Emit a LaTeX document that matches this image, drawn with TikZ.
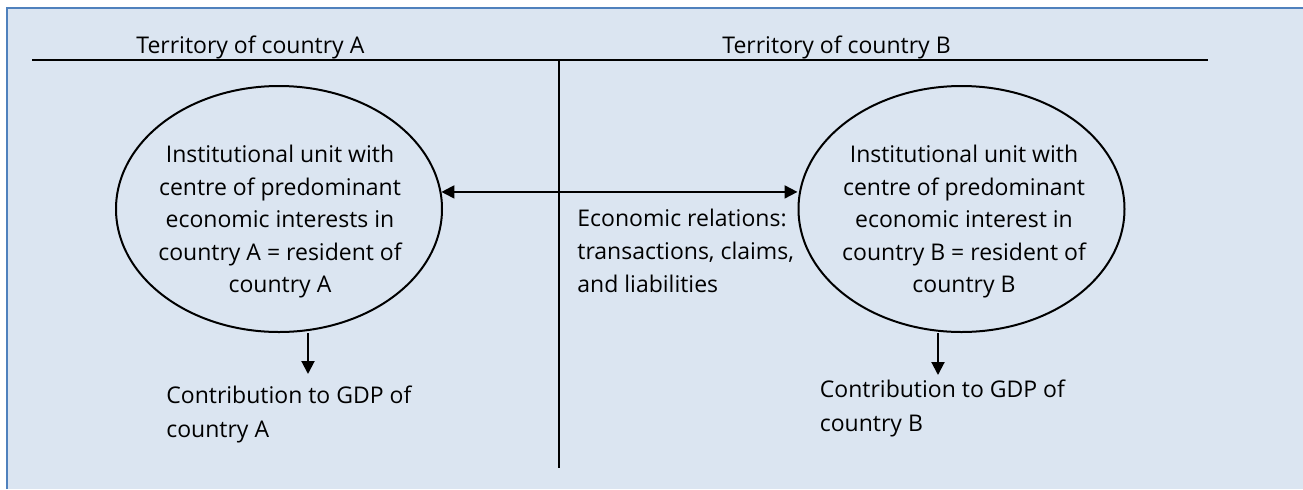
\documentclass[tikz,border=0pt]{standalone}
\usepackage{fontspec}
\setmainfont{Open Sans}
\usetikzlibrary{shapes.geometric}
\usetikzlibrary{arrows.meta}
\definecolor{panelfill}{HTML}{DBE5F1}
\definecolor{panelline}{HTML}{4F81BD}
\newcommand{\lblfont}[1]{\fontsize{11.5}{#1}\selectfont}

\begin{document}
\begin{tikzpicture}[x=0.5pt,y=-0.5pt,
  unit/.style={draw,ellipse,line width=1pt,minimum width=163pt,minimum height=123pt,inner sep=0pt},
  lbl/.style={inner sep=0pt,font=\lblfont{16.25}},
  arr/.style={line width=1pt,-{Triangle[length=6.5pt,width=6.5pt]}},
  dbl/.style={line width=1pt,{Triangle[length=6.5pt,width=6.5pt]}-{Triangle[length=6.5pt,width=6.5pt]}}]
\useasboundingbox (0,0) rectangle (1303,489);
\fill[panelfill] (7,8) rectangle (1303,489);
\draw[panelline,line width=1pt] (7,489) -- (7,8) -- (1303,8);
\coordinate (topL) at (32,60);
\coordinate (topR) at (1208,60);
\coordinate (divTop) at (559,60);
\coordinate (divBot) at (559,468);
\draw[line width=1pt] (topL) -- (topR);
\draw[line width=1pt] (divTop) -- (divBot);
\node[lbl,anchor=base west] (terrA) at (136,53) {Territory of country A};
\node[lbl,anchor=base west] (terrB) at (722,53) {Territory of country B};
\node[unit] (unitA) at (279,209) {};
\node[unit] (unitB) at (961.5,209) {};
\node[lbl,align=center] (textA) at (280,222) {Institutional unit with\\centre of predominant\\economic interests in\\country A = resident of\\country A};
\node[lbl,align=center] (textB) at (964,222) {Institutional unit with\\centre of predominant\\economic interest in\\country B = resident of\\country B};
\node[lbl,align=left,anchor=north west,font=\lblfont{16.5}] (relations) at (577,209) {Economic relations:\\transactions, claims,\\and liabilities};
\draw[dbl] (unitA.6) -- (unitA.6 -| unitB.west);
\node[lbl,align=left,anchor=north west,font=\lblfont{17}] (contribA) at (166,385) {Contribution to GDP of\\country A};
\node[lbl,align=left,anchor=north west,font=\lblfont{17}] (contribB) at (819.5,379) {Contribution to GDP of\\country B};
\coordinate (dropA) at (308,0);
\coordinate (dropB) at (938,0);
\draw[arr,shorten >=5.5pt] (unitA.south -| dropA) -- (contribA.north -| dropA);
\draw[arr,shorten >=2pt] (unitB.south -| dropB) -- (contribB.north -| dropB);
\end{tikzpicture}
\end{document}
